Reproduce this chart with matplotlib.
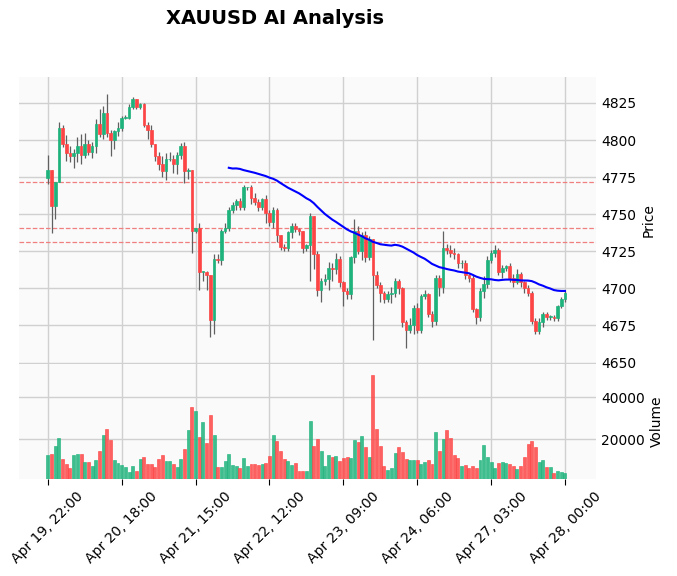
import matplotlib
matplotlib.use("Agg")
import matplotlib.pyplot as plt
import numpy as np
import pandas as pd

first_open = 4774.5
closes = [4780, 4755.5, 4772, 4808, 4797.5, 4791, 4789, 4791, 4796, 4790,
          4797, 4792, 4796, 4811, 4804, 4818, 4805, 4800, 4806, 4808,
          4815, 4815, 4822, 4828, 4822, 4824, 4810, 4807, 4797, 4789,
          4784, 4779, 4787, 4787, 4784, 4790, 4796, 4779, 4780, 4739,
          4741, 4711, 4711, 4709, 4679, 4720, 4719, 4739, 4741, 4753,
          4756, 4759, 4755, 4768, 4768, 4761, 4758, 4755, 4760, 4751,
          4745, 4753, 4736, 4728, 4727, 4738, 4742, 4740, 4739, 4727,
          4729, 4749, 4723, 4699, 4705, 4706, 4714, 4713, 4720, 4704,
          4698, 4696, 4721, 4739, 4725, 4736, 4721, 4733, 4709, 4702,
          4697, 4693, 4696, 4697, 4705, 4700, 4677, 4672, 4675, 4687,
          4672, 4695, 4696, 4683, 4678, 4707, 4701, 4727, 4726, 4724,
          4723, 4717, 4717, 4709, 4707, 4686, 4681, 4698.5, 4703, 4719,
          4724, 4726, 4711, 4714, 4715, 4707, 4704, 4710, 4704, 4700,
          4697, 4678, 4671, 4677, 4683, 4681, 4681, 4680, 4688, 4693, 4697]
upper_wick = [10, 0, 0, 4, 2, 6, 5, 3, 6, 8, 8, 3, 3, 3, 10, 5, 13, 2, 1, 4,
              1, 2, 2, 1, 0, 1, 1, 2, 3, 0, 3, 5, 4, 5, 3, 2, 2, 3, 1, 0,
              0, 3, 1, 1, 0, 3, 3, 1, 3, 2, 2, 1, 2, 2, 0, 2, 3, 2, 1, 3,
              2, 2, 1, 0, 2, 1, 2, 2, 1, 0, 1, 2, 0, 2, 2, 4, 4, 3, 4, 2,
              1, 2, 1, 8, 3, 2, 3, 2, 0, 3, 2, 1, 2, 4, 2, 1, 1, 2, 5, 2,
              3, 1, 3, 1, 2, 2, 2, 12, 3, 3, 3, 1, 2, 2, 1, 2, 1, 2, 5, 3,
              2, 3, 1, 2, 1, 2, 3, 3, 1, 1, 2, 1, 2, 3, 1, 1, 1, 1, 1, 1, 1]
lower_wick = [4, 18, 9, 0, 2, 5, 4, 8, 6, 6, 2, 2, 4, 5, 2, 3, 3, 11, 6, 3,
              2, 1, 1, 1, 1, 1, 1, 6, 2, 3, 4, 4, 6, 1, 6, 7, 3, 8, 5, 15,
              2, 12, 6, 10, 12, 10, 2, 3, 2, 2, 2, 3, 2, 2, 2, 4, 2, 3, 2, 7,
              3, 4, 5, 2, 2, 2, 4, 2, 3, 3, 2, 24, 10, 4, 8, 3, 7, 8, 3, 3,
              10, 3, 3, 4, 2, 6, 3, 2, 44, 2, 6, 3, 2, 6, 3, 4, 3, 12, 2, 6,
              2, 2, 2, 2, 4, 3, 6, 4, 3, 3, 3, 3, 3, 3, 3, 2, 5, 3, 5, 3,
              2, 3, 2, 4, 2, 3, 3, 1, 3, 3, 2, 2, 2, 2, 3, 2, 2, 2, 2, 1, 2]
volumes = [12500, 13000, 16800, 20600, 10600, 8600, 6700, 12500, 13000, 13000,
           9200, 9200, 7300, 10200, 14400, 22000, 24900, 19700, 10200, 8700,
           7800, 6800, 4400, 7300, 4900, 10600, 11600, 8300, 8300, 6800,
           10600, 12500, 9700, 9700, 8300, 6800, 10600, 15400, 24400, 35400,
           33500, 21100, 28200, 18300, 31600, 22000, 6800, 6800, 9700, 13000,
           7800, 7300, 6300, 11100, 7300, 8300, 8300, 7800, 8300, 8700,
           12100, 22000, 19200, 14400, 10600, 9700, 7800, 8700, 4900, 4900,
           4900, 28700, 16800, 20200, 14400, 7300, 12500, 11600, 12100, 9700,
           11100, 11600, 11100, 19700, 18700, 21600, 16300, 11600, 50600, 24900,
           16800, 7300, 5400, 6300, 13500, 16300, 14000, 10600, 10200, 10200,
           10200, 8300, 9200, 10200, 8300, 23500, 14400, 20200, 24400, 20600,
           12500, 11100, 7300, 7800, 6300, 7300, 6300, 10200, 17300, 11600,
           9200, 6300, 8700, 9200, 8700, 8300, 7300, 5900, 7300, 11600,
           17800, 19200, 16300, 9200, 10200, 6800, 6800, 4000, 4900, 4400, 4000]
tick_labels = ["Apr 19, 22:00", "Apr 20, 18:00", "Apr 21, 15:00", "Apr 22, 12:00",
               "Apr 23, 09:00", "Apr 24, 06:00", "Apr 27, 03:00", "Apr 28, 00:00"]
levels = [4772, 4741, 4731]
ma_window = 50

closes = np.array(closes, float)
opens = np.concatenate([[first_open], closes[:-1]])
highs = np.maximum(opens, closes) + np.array(upper_wick)
lows = np.minimum(opens, closes) - np.array(lower_wick)
n = len(closes)
x = np.arange(n)
up = closes >= opens
UP, DN = "#1eb37c", "#fe4545"
cols = np.where(up, UP, DN)

fig = plt.figure(figsize=(6.77, 5.76), dpi=100)
W, H = 677, 576
axp = fig.add_axes([19 / W, 1 - 364 / H, (596 - 19) / W, (364 - 77) / H])
axv = fig.add_axes([19 / W, 1 - 479 / H, (596 - 19) / W, (479 - 364) / H], sharex=axp)
for ax in (axp, axv):
    ax.set_facecolor("#fafafa")
    ax.grid(True, color="#d0d0d0", lw=1)
    ax.set_axisbelow(True)
    for s in ax.spines.values():
        s.set_visible(False)
    ax.yaxis.tick_right()
    ax.yaxis.set_label_position("right")
    ax.tick_params(axis="y", length=0, labelsize=10)

axp.vlines(x, lows, highs, color="#606060", lw=0.9, zorder=2)
body_h = np.abs(closes - opens)
body_h = np.where(body_h < 0.4, 0.4, body_h)
axp.bar(x, body_h, bottom=np.minimum(opens, closes), width=0.72, color=cols,
        edgecolor=cols, lw=0.5, zorder=3)
ma = pd.Series(closes).rolling(ma_window).mean()
axp.plot(x, ma, color="blue", lw=1.5, zorder=4)
for lv in levels:
    axp.axhline(lv, color="#f08080", ls="--", lw=0.9, zorder=1)
axp.set_ylim(4649, 4842.5)
axp.set_yticks([4650, 4675, 4700, 4725, 4750, 4775, 4800, 4825])
axp.set_ylabel("Price", fontsize=10)
axp.tick_params(axis="x", labelbottom=False, length=0)

axv.bar(x, volumes, width=0.8, color=cols, alpha=0.85, edgecolor=cols, lw=0.5)
axv.set_ylim(1300, 55600)
axv.set_yticks([20000, 40000])
axv.set_ylabel("Volume", fontsize=10)
axv.set_xlim(-7.8, 148.4)
tick_pos = np.arange(0, n, 20)
axv.set_xticks(tick_pos)
axv.set_xticklabels(tick_labels, rotation=45, ha="center", fontsize=10)
axv.tick_params(axis="x", length=4, color="#000000")

fig.text(275 / W, 1 - 19 / H, "XAUUSD AI Analysis", ha="center", va="center",
         fontsize=14, fontweight="bold")
fig.savefig("out.png", dpi=100)
